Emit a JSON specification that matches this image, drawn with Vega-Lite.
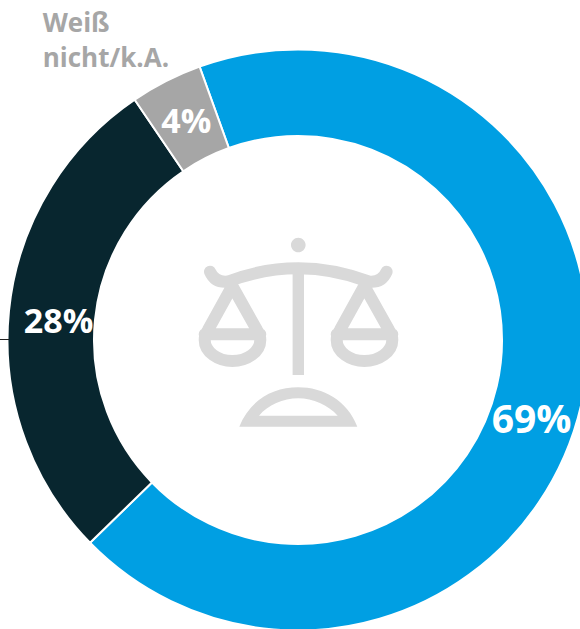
{"$schema":"https://vega.github.io/schema/vega-lite/v6.json","width":564,"height":578,"autosize":{"type":"none"},"padding":{"left":16,"top":51,"right":0,"bottom":0},"background":"white","view":{"stroke":null},
"data":{"values":[{"key":"ja","value":68.2,"order":1,"pct":"69%","name":""},{"key":"nein","value":27.8,"order":2,"pct":"28%","name":""},{"key":"weiss","value":4.0,"order":3,"pct":"4%","name":["Weiß","nicht/k.A."]}]},
"encoding":{"theta":{"field":"value","type":"quantitative","stack":true,"scale":{"domain":[0,100],"range":[-0.3456,5.9376]}},"order":{"field":"order","type":"quantitative"}},
"layer":[
{"mark":{"type":"arc","radius":290.5,"radius2":204,"stroke":"white","strokeWidth":2},"encoding":{"color":{"field":"key","type":"nominal","legend":null,"scale":{"domain":["ja","nein","weiss"],"range":["#009fe3","#08262f","#a6a6a6"]}}}},
{"mark":{"type":"text","radius":247,"thetaOffset":0.106,"font":"Open Sans","fontWeight":"bold","fontSize":39,"fill":"white"},"encoding":{"text":{"condition":{"test":"datum.key=='ja'","field":"pct"},"value":""}}},
{"mark":{"type":"text","radius":240,"thetaOffset":-0.03,"font":"Open Sans","fontWeight":"bold","fontSize":34,"fill":"white"},"encoding":{"text":{"condition":{"test":"datum.key=='nein'","field":"pct"},"value":""}}},
{"mark":{"type":"text","radius":244,"thetaOffset":-0.004,"font":"Open Sans","fontWeight":"bold","fontSize":34,"fill":"white"},"encoding":{"text":{"condition":{"test":"datum.key=='weiss'","field":"pct"},"value":""}}},
{"mark":{"type":"text","radius":400,"thetaOffset":-0.221,"align":"left","baseline":"alphabetic","lineHeight":35,"font":"Open Sans","fontWeight":"bold","fontSize":26,"fill":"#a6a6a6"},"encoding":{"text":{"condition":{"test":"datum.key=='weiss'","field":"name"},"value":""}}},
{"data":{"values":[{"part":"stroke"}]},"mark":{"type":"point","filled":false,"opacity":1,"stroke":"#d9d9d9","strokeWidth":12,"size":40000,"strokeJoin":"round","strokeCap":"round","shape":"M-.88 -.683Q-.83 -.57 -.7 -.585Q-.35 -.717 .003 -.717Q.35 -.717 .706 -.585Q.836 -.57 .886 -.683M-.657 -.54L-.9 -.1Q-.933 -.05 -.933 0C-.933 .12 -.8 .21 -.657 .21C-.51 .21 -.377 .12 -.377 0Q-.377 -.05 -.41 -.1ZM-.933 -.057L-.377 -.057M.663 -.54L.42 -.1Q.387 -.05 .387 0C.387 .12 .52 .21 .663 .21C.81 .21 .943 .12 .943 0Q.943 -.05 .91 -.1ZM.387 -.057L.943 -.057"},"encoding":{"theta":null,"order":null}},
{"data":{"values":[{"part":"fill"}]},"mark":{"type":"point","filled":true,"opacity":1,"fill":"#d9d9d9","strokeWidth":0,"size":40000,"shape":"M-.07 -.95a.073 .073 0 1 1 .146 0a.073 .073 0 1 1 -.146 0ZM-.054 -.72L.06 -.72L.06 .35L-.054 .35ZM-.587 .867C-.48 .6 -.25 .473 .003 .473C.25 .473 .49 .6 .593 .867ZM.397 .757C.3 .65 .15 .583 .003 .583C-.15 .583 -.3 .65 -.39 .757Z"},"encoding":{"theta":null,"order":null}},
{"data":{"values":[{"part":"tick"}]},"mark":{"type":"point","filled":false,"opacity":1,"stroke":"#222222","strokeWidth":1,"size":40000,"shape":"M-2.985 -.005L-2.89 -.005"},"encoding":{"theta":null,"order":null}}
]}
